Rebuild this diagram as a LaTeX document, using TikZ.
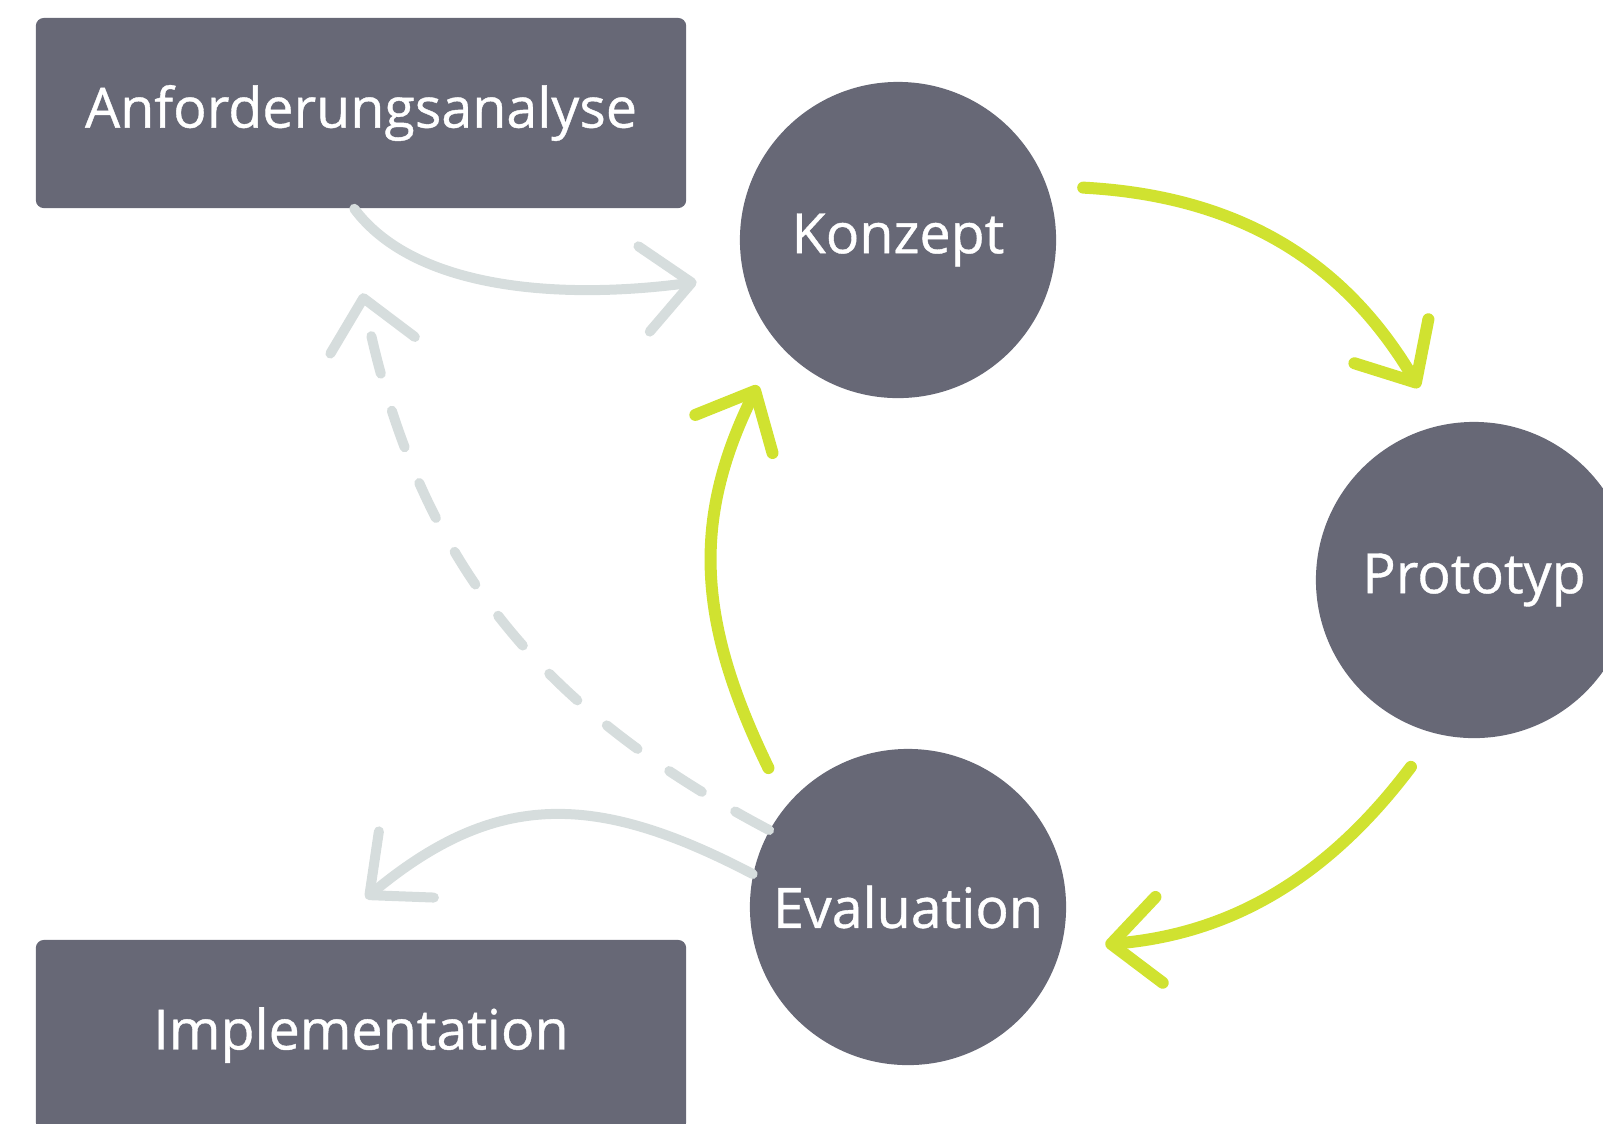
\documentclass[tikz,border=0pt]{standalone}
\usepackage{fontspec}
\setmainfont{Open Sans}[Ligatures=NoCommon, FakeBold=0.7]
\usetikzlibrary{arrows.meta}
\definecolor{nodegray}{RGB}{103,104,118}
\definecolor{leaf}{RGB}{208,226,48}
\definecolor{mistgray}{RGB}{214,221,221}

\begin{document}
\begin{tikzpicture}[x=0.01cm, y=-0.01cm,
    box/.style={rectangle, rounded corners=0.8mm, fill=nodegray, text=white, minimum width=6.5cm, minimum height=1.9cm, inner sep=0pt},
    phase/.style={circle, fill=nodegray, text=white, minimum size=3.16cm, inner sep=0pt},
    barb/.style={-{Straight Barb[length=4.8mm, width=8.6mm, round]}},
    greenline/.style={barb, leaf, line width=1.2mm, line cap=round},
    grayline/.style={barb, mistgray, line width=1mm, line cap=round},
    font=\fontsize{15.8}{18}\selectfont]
  \useasboundingbox (0, 0) rectangle (1603, 1123);

  \node[box] (anf) at (361, 113) {Anforderungsanalyse};
  \node[box] (impl) at (361, 1035) {Implementation};
  \node[phase] (konzept) at (898, 240) {Konzept};
  \node[phase] (proto) at (1474, 580) {Prototyp};
  \node[phase] (eval) at (908, 907) {Evaluation};

  % green cycle
  \draw[greenline, shorten <=3.6mm, shorten >=4.3mm] (konzept.20) .. controls (1260, 197) and (1355, 280) .. (proto.102);
  \draw[greenline, shorten <=4.1mm, shorten >=4.4mm] (proto.256) .. controls (1334, 869) and (1240, 933) .. (eval.-15);
  \draw[greenline, shorten <=4.1mm, shorten >=4.6mm] (eval.140) .. controls (699, 625) and (690, 523) .. (konzept.221);

  % gray arrows
  \draw[grayline, shorten >=4.7mm] (anf.266) .. controls (415, 290) and (561, 300) .. (konzept.193);
  \draw[grayline, dash pattern=on 11pt off 11pt, shorten >=8.6mm] (eval.151) .. controls (540, 709) and (415, 561) .. (anf.261);
  \draw[grayline, shorten >=6.4mm] (eval.168) .. controls (596, 792) and (496, 790) .. (impl.115);

\end{tikzpicture}
\end{document}
